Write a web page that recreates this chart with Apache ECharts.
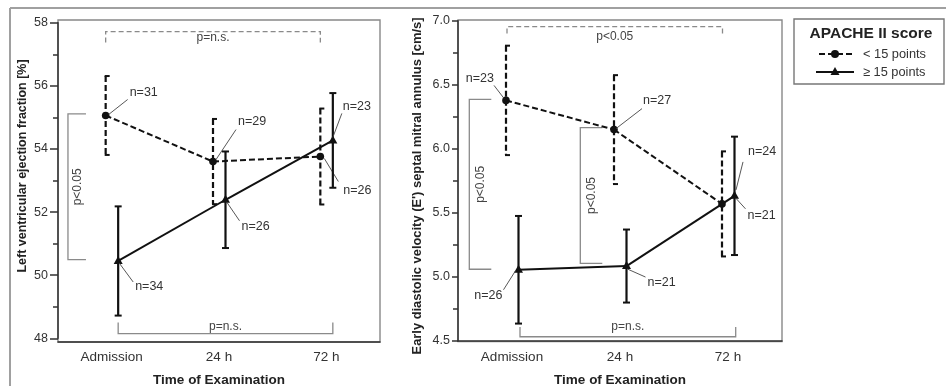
<!DOCTYPE html>
<html><head><meta charset="utf-8">
<script src="https://cdn.jsdelivr.net/npm/echarts@6/dist/echarts.min.js"></script>
<style>html,body{margin:0;padding:0;background:#fff}#c{width:946px;height:386px}</style>
</head><body><div id="c"></div>
<script>
// ---------------- data ----------------
const categories = ['Admission', '24 h', '72 h'];
const groupNames = ['< 15 points', '\u2265 15 points'];

// Left panel: LVEF [%]
const lvefLowMean  = [55.06, 53.60, 53.76];
const lvefLowErr   = [1.25, 1.35, 1.52];
const lvefLowN     = [31, 29, 26];
const lvefHighMean = [50.45, 52.39, 54.27];
const lvefHighErr  = [1.73, 1.53, 1.50];
const lvefHighN    = [34, 26, 23];
const lvefTicks    = [48, 50, 52, 54, 56, 58];

// Right panel: E' septal [cm/s]
const eLowMean  = [6.378, 6.150, 5.570];
const eLowErr   = [0.427, 0.425, 0.410];
const eLowN     = [23, 27, 24];
const eHighMean = [5.056, 5.085, 5.633];
const eHighErr  = [0.420, 0.285, 0.462];
const eHighN    = [26, 21, 21];
const eTicks    = ['4.5', '5.0', '5.5', '6.0', '6.5', '7.0'];

// significance annotations (in data units of each panel)
const hBrackets = [
  {grid: 0, c1: 0, c2: 2, y: 57.72, tick: 57.37, dashed: true, text: 'p=n.s.'},
  {grid: 0, c1: 0, c2: 2, y: 48.15, tick: 48.50, dashed: false, text: 'p=n.s.'},
  {grid: 1, c1: 0, c2: 2, y: 6.953, tick: 6.900, dashed: true, text: 'p<0.05'},
  {grid: 1, c1: 0, c2: 2, y: 4.533, tick: 4.609, dashed: false, text: 'p=n.s.'}
];
const vBrackets = [
  {grid: 0, c: 0, y1: 55.11, y2: 50.49, text: 'p<0.05'},
  {grid: 1, c: 0, y1: 6.386, y2: 5.060, text: 'p<0.05'},
  {grid: 1, c: 1, y1: 6.165, y2: 5.106, text: 'p<0.05'}
];

// ---------------- layout / style ----------------
const F = '"Liberation Sans", Arial, Helvetica, sans-serif';
const DX = {low: -6, high: 6.5};
// label layout per point: [textDx, textDy, align, leaderStartDx, leaderStartDy, leaderEndDx, leaderEndDy]
const labLeftLow  = [[24,-23,'left',3,-1,22,-16],[25,-40,'left',3,-2,23,-32],[23,34,'left',4,2,18,25]];
const labLeftHigh = [[17,26,'left',1,2,15,21],[16,27,'left',1,2,14,21],[10,-34,'left',0,-3,9,-27]];
const labRightLow = [[-12,-22,'right',-2,-2,-12,-15],[29,-29,'left',2,-1,28,-21],[26,-52,'left',14,-14,21,-42]];
const labRightHigh= [[-16,26,'right',-3,1,-15,20],[21,16,'left',1,3,19,11],[13,20,'left',1,2,11,13]];
const hBracketLayout = [
  {d1: -6, d2: -6, textDy: 6}, {d1: 6.5, d2: 6.5, textDy: -7},
  {d1: -5, d2: -5.5, textDy: 10}, {d1: 8, d2: 7.7, textDy: -10}
];
const vBracketLayout = [
  {vx: -43.7, ex: -25.7, tx: -33.7}, {vx: -42.7, ex: -20.7, tx: -31.7}, {vx: -39.7, ex: -17.7, tx: -28.7}
];

function groupSeries(name, gi, means, errs, ns, dashed, dx, layout) {
  return {
    type: 'custom', name: name, xAxisIndex: gi, yAxisIndex: gi, z: dashed ? 3 : 4,
    data: means.map((m, i) => [i, m, m - errs[i], m + errs[i], ns[i]]),
    renderItem: function (params, api) {
      const i = params.dataIndex;
      const c = api.coord([api.value(0), api.value(1)]);
      const x = c[0] + dx, y = c[1];
      const yt = api.coord([api.value(0), api.value(3)])[1];
      const yb = api.coord([api.value(0), api.value(2)])[1];
      const dash = dashed ? [6, 3] : null;
      const ch = [];
      if (i < means.length - 1) {
        const q = api.coord([i + 1, means[i + 1]]);
        ch.push({type: 'line', shape: {x1: x, y1: y, x2: q[0] + dx, y2: q[1]},
          style: {stroke: '#111', fill: 'none', lineWidth: 2, lineDash: dash}});
      }
      ch.push({type: 'line', shape: {x1: x, y1: yt, x2: x, y2: yb},
        style: {stroke: '#111', fill: 'none', lineWidth: 2.2, lineDash: dash}});
      const a0 = dashed ? -1 : -3.5, a1 = dashed ? 4 : 3.5;
      ch.push({type: 'line', shape: {x1: x + a0, y1: yt, x2: x + a1, y2: yt}, style: {stroke: '#111', fill: 'none', lineWidth: 2}});
      ch.push({type: 'line', shape: {x1: x + a0, y1: yb, x2: x + a1, y2: yb}, style: {stroke: '#111', fill: 'none', lineWidth: 2}});
      if (dashed) {
        ch.push({type: 'circle', shape: {cx: x, cy: y, r: 3.8}, style: {fill: '#111', stroke: 'none'}});
      } else {
        ch.push({type: 'polygon', shape: {points: [[x, y - 5], [x - 4.5, y + 3], [x + 4.5, y + 3]]}, style: {fill: '#111', stroke: 'none'}});
      }
      const L = layout[i];
      ch.push({type: 'line', shape: {x1: x + L[3], y1: y + L[4], x2: x + L[5], y2: y + L[6]},
        style: {stroke: '#444', fill: 'none', lineWidth: 0.9}});
      ch.push({type: 'text', x: x + L[0], y: y + L[1],
        style: {text: 'n=' + api.value(4), fill: '#333', fontSize: 12.5, fontFamily: F, align: L[2], verticalAlign: 'middle'}});
      return {type: 'group', children: ch};
    }
  };
}

function bracketSeries(gi) {
  const hs = hBrackets.map((b, k) => [b, hBracketLayout[k]]).filter(p => p[0].grid === gi);
  const vs = vBrackets.map((b, k) => [b, vBracketLayout[k]]).filter(p => p[0].grid === gi);
  const items = hs.map(p => ({h: p})).concat(vs.map(p => ({v: p})));
  return {
    type: 'custom', xAxisIndex: gi, yAxisIndex: gi, z: 2, silent: true,
    data: items.map(it => [0, it.h ? it.h[0].y : it.v[0].y1]),
    renderItem: function (params, api) {
      const it = items[params.dataIndex];
      const ch = [];
      if (it.h) {
        const b = it.h[0], l = it.h[1];
        const p1 = api.coord([b.c1, b.y]), p2 = api.coord([b.c2, b.y]);
        const yt = api.coord([b.c1, b.tick])[1];
        const x1 = p1[0] + l.d1, x2 = p2[0] + l.d2;
        const st = {stroke: '#8a8a8a', fill: 'none', lineWidth: 1.3, lineDash: b.dashed ? [5, 3] : null};
        ch.push({type: 'polyline', shape: {points: [[x1, yt], [x1, p1[1]], [x2, p1[1]], [x2, yt]]}, style: st});
        ch.push({type: 'text', x: (x1 + x2) / 2, y: p1[1] + l.textDy,
          style: {text: b.text, fill: '#444', fontSize: 12, fontFamily: F, align: 'center', verticalAlign: 'middle'}});
      } else {
        const b = it.v[0], l = it.v[1];
        const p1 = api.coord([b.c, b.y1]), p2 = api.coord([b.c, b.y2]);
        const vx = p1[0] + l.vx, ex = p1[0] + l.ex;
        ch.push({type: 'polyline', shape: {points: [[ex, p1[1]], [vx, p1[1]], [vx, p2[1]], [ex, p2[1]]]},
          style: {stroke: '#8a8a8a', fill: 'none', lineWidth: 1.3}});
        ch.push({type: 'text', x: p1[0] + l.tx, y: (p1[1] + p2[1]) / 2, rotation: Math.PI / 2,
          style: {text: b.text, fill: '#444', fontSize: 12, fontFamily: F, align: 'center', verticalAlign: 'middle'}});
      }
      return {type: 'group', children: ch};
    }
  };
}

const axisCol = '#333';
function xAx(gi, offset) {
  return {
    type: 'category', gridIndex: gi, data: categories, boundaryGap: true, offset: offset,
    axisLine: {lineStyle: {color: axisCol, width: 1.5}},
    axisTick: {alignWithLabel: true, length: 5, lineStyle: {color: axisCol, width: 1.5}},
    axisLabel: {color: '#333', fontSize: 13.5, fontFamily: F, margin: 9},
    name: 'Time of Examination', nameLocation: 'middle', nameGap: 32,
    nameTextStyle: {color: '#222', fontSize: 13.5, fontWeight: 'bold', fontFamily: F},
    splitLine: {show: false}
  };
}
function yAx(gi, ticks, majorLen, margin, fmt) {
  const v = ticks.map(Number);
  return {
    type: 'value', gridIndex: gi, min: v[0], max: v[v.length - 1], interval: v[1] - v[0],
    axisLine: {show: true, lineStyle: {color: axisCol, width: 1.5}},
    axisTick: {show: true, length: majorLen, lineStyle: {color: axisCol, width: 1.5}},
    minorTick: {show: true, splitNumber: 2, length: 5, lineStyle: {color: axisCol, width: 1.5}},
    axisLabel: {color: '#333', fontSize: 12.5, fontFamily: F, margin: margin, formatter: fmt},
    splitLine: {show: false}, minorSplitLine: {show: false}
  };
}

const legendGraphic = [
  {type: 'rect', shape: {x: 794, y: 19, width: 150, height: 65}, style: {fill: '#fff', stroke: '#777', lineWidth: 1.4}},
  {type: 'text', x: 871, y: 34, style: {text: 'APACHE II score', fill: '#222', fontSize: 15.5, fontWeight: 'bold', fontFamily: F, align: 'center', verticalAlign: 'middle'}},
  {type: 'line', shape: {x1: 819, y1: 54, x2: 853, y2: 54}, style: {stroke: '#111', lineWidth: 2, lineDash: [6, 3]}},
  {type: 'circle', shape: {cx: 835, cy: 54, r: 4}, style: {fill: '#111'}},
  {type: 'text', x: 863, y: 54, style: {text: groupNames[0], fill: '#333', fontSize: 12.8, fontFamily: F, align: 'left', verticalAlign: 'middle'}},
  {type: 'line', shape: {x1: 816, y1: 72, x2: 854, y2: 72}, style: {stroke: '#111', lineWidth: 2}},
  {type: 'polygon', shape: {points: [[835, 67], [830.5, 75], [839.5, 75]]}, style: {fill: '#111'}},
  {type: 'text', x: 863, y: 72, style: {text: groupNames[1], fill: '#333', fontSize: 12.8, fontFamily: F, align: 'left', verticalAlign: 'middle'}}
];

const option = {
  animation: false,
  backgroundColor: '#fff',
  grid: [
    {left: 58, top: 22.7, width: 322, height: 315.6, outerBoundsMode: 'none', containLabel: false},
    {left: 458, top: 20.7, width: 324, height: 320.3, outerBoundsMode: 'none', containLabel: false}
  ],
  xAxis: [xAx(0, 3.4), xAx(1, 0)],
  yAxis: [
    yAx(0, lvefTicks, 8, 10, v => String(v)),
    yAx(1, eTicks, 6, 8, v => v.toFixed(1))
  ],
  graphic: [
    {type: 'line', z: -5, shape: {x1: 10, y1: 8, x2: 946, y2: 8}, style: {stroke: '#a0a0a0', lineWidth: 2}},
    {type: 'line', z: -5, shape: {x1: 10, y1: 8, x2: 10, y2: 386}, style: {stroke: '#a0a0a0', lineWidth: 2}},
    {type: 'rect', z: -5, shape: {x: 58, y: 20, width: 322, height: 322}, style: {fill: 'none', stroke: '#888', lineWidth: 1.4}},
    {type: 'rect', z: -5, shape: {x: 458, y: 20, width: 324, height: 321.5}, style: {fill: 'none', stroke: '#888', lineWidth: 1.4}},
    {type: 'text', x: 22.5, y: 166, rotation: Math.PI / 2,
      style: {text: 'Left ventricular ejection fraction [%]', fill: '#222', fontSize: 12.5, fontWeight: 'bold', fontFamily: F, align: 'center', verticalAlign: 'middle'}},
    {type: 'text', x: 417, y: 186, rotation: Math.PI / 2,
      style: {text: "Early diastolic velocity (E') septal mitral annulus [cm/s]", fill: '#222', fontSize: 12.9, fontWeight: 'bold', fontFamily: F, align: 'center', verticalAlign: 'middle'}}
  ].concat(legendGraphic),
  series: [
    bracketSeries(0),
    bracketSeries(1),
    groupSeries(groupNames[0], 0, lvefLowMean, lvefLowErr, lvefLowN, true, DX.low, labLeftLow),
    groupSeries(groupNames[1], 0, lvefHighMean, lvefHighErr, lvefHighN, false, DX.high, labLeftHigh),
    groupSeries(groupNames[0], 1, eLowMean, eLowErr, eLowN, true, DX.low, labRightLow),
    groupSeries(groupNames[1], 1, eHighMean, eHighErr, eHighN, false, DX.high, labRightHigh)
  ]
};
const chart = echarts.init(document.getElementById('c'), null, {renderer: 'canvas'});
chart.setOption(option);
</script>
</body></html>
